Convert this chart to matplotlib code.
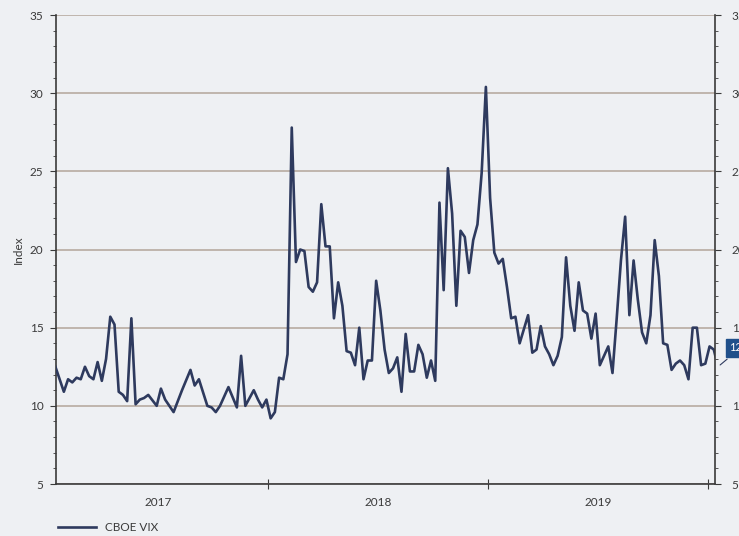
import numpy as np
import pandas as pd
import matplotlib
matplotlib.use('Agg')
import matplotlib.pyplot as plt
import matplotlib.dates as mdates
from matplotlib.ticker import MultipleLocator

# weekly CBOE VIX readings, week number counted from 13 Jan 2017
start = pd.Timestamp('2017-01-13')
weeks = [0, 2, 3, 4, 5, 6, 7, 8, 9, 10, 11, 12, 13, 14, 15, 16, 17, 18, 19, 20,
         21, 22, 24, 25, 26, 28, 30, 32, 33, 34, 36, 37, 38, 39, 41, 43, 44, 45, 47, 48,
         49, 50, 51, 52, 53, 54, 55, 56, 57, 58, 59, 60, 61, 62, 63, 64, 65, 66, 67, 68,
         69, 70, 71, 72, 73, 74, 75, 76, 77, 78, 79, 80, 81, 82, 83, 84, 85, 86, 87, 88,
         89, 90, 91, 92, 93, 94, 95, 96, 97, 98, 99, 100, 101, 102, 103, 104, 105, 106, 107, 108,
         109, 110, 112, 113, 114, 115, 116, 117, 118, 119, 120, 121, 122, 123, 124, 125, 126, 127, 128, 129,
         130, 131, 132, 133, 134, 135, 136, 137, 138, 139, 140, 141, 142, 143, 144, 145, 146, 147, 148, 149,
         150, 151, 152, 153, 154, 155, 156, 157]
vix = [12.5, 10.9, 11.7, 11.5, 11.8, 11.7, 12.5, 11.9, 11.7, 12.8, 11.6, 13.0, 15.7, 15.2, 10.9, 10.7, 10.3, 15.6, 10.1, 10.4,
       10.5, 10.7, 10.0, 11.1, 10.4, 9.6, 11.0, 12.3, 11.3, 11.7, 10.0, 9.9, 9.6, 10.0, 11.2, 9.9, 13.2, 10.0, 11.0, 10.4,
       9.9, 10.4, 9.2, 9.6, 11.8, 11.7, 13.3, 27.8, 19.2, 20.0, 19.9, 17.6, 17.3, 17.9, 22.9, 20.2, 20.2, 15.6, 17.9, 16.4,
       13.5, 13.4, 12.6, 15.0, 11.7, 12.9, 12.9, 18.0, 16.1, 13.6, 12.1, 12.4, 13.1, 10.9, 14.6, 12.2, 12.2, 13.9, 13.3, 11.8,
       12.9, 11.6, 23.0, 17.4, 25.2, 22.3, 16.4, 21.2, 20.8, 18.5, 20.6, 21.6, 24.9, 30.4, 23.3, 19.8, 19.1, 19.4, 17.6, 15.6,
       15.7, 14.0, 15.8, 13.4, 13.6, 15.1, 13.8, 13.3, 12.6, 13.2, 14.4, 19.5, 16.4, 14.8, 17.9, 16.1, 15.9, 14.3, 15.9, 12.6,
       13.2, 13.8, 12.1, 15.6, 19.3, 22.1, 15.8, 19.3, 16.8, 14.7, 14.0, 15.8, 20.6, 18.3, 14.0, 13.9, 12.3, 12.7, 12.9, 12.6,
       11.7, 15.0, 15.0, 12.6, 12.7, 13.8, 13.6, 12.5]

dates = start + pd.to_timedelta(np.array(weeks) * 7, unit='D')

bg = '#eef0f3'
ink = '#3a3a3a'
line_col = '#2e3a5e'

plt.rcParams['font.family'] = ['Lato', 'DejaVu Sans']

fig = plt.figure(figsize=(7.39, 5.36), dpi=100, facecolor=bg)
ax = fig.add_axes([0.0758, 0.097, 0.8917, 0.875])
ax.set_facecolor(bg)

ax.plot(dates, vix, color=line_col, lw=1.9, label='CBOE VIX', zorder=3)

ax.set_ylim(5, 35)
ax.set_xlim(pd.Timestamp('2017-01-14'), pd.Timestamp('2020-01-12'))

ax.yaxis.set_major_locator(MultipleLocator(5))
ax.yaxis.set_minor_locator(MultipleLocator(1))
ax.grid(axis='y', which='major', color='#b7aba1', lw=1.2)
ax.set_axisbelow(True)

# year boundaries as tick marks, year names centred in between
ax.xaxis.set_major_locator(mdates.YearLocator())
ax.xaxis.set_major_formatter(plt.NullFormatter())
ax.xaxis.set_minor_locator(mdates.MonthLocator(bymonth=7, bymonthday=2))
ax.xaxis.set_minor_formatter(mdates.DateFormatter('%Y'))
ax.tick_params(axis='x', which='major', direction='inout', length=7, color=ink)
ax.tick_params(axis='x', which='minor', length=0, pad=9, labelsize=8.5, labelcolor=ink)

ax.tick_params(axis='y', which='major', direction='out', length=4, color=ink, labelsize=8.5, labelcolor=ink, pad=5)
ax.tick_params(axis='y', which='minor', direction='out', length=2, color=ink)

for s in ['left', 'bottom']:
    ax.spines[s].set_color(ink)
    ax.spines[s].set_linewidth(1.2)
ax.spines['top'].set_visible(False)
ax.spines['right'].set_visible(False)

ax2 = ax.twinx()
ax2.set_ylim(5, 35)
ax2.yaxis.set_major_locator(MultipleLocator(5))
ax2.yaxis.set_minor_locator(MultipleLocator(1))
ax2.tick_params(axis='y', which='major', direction='out', length=4, color=ink, labelsize=8.5, labelcolor=ink, pad=8)
ax2.tick_params(axis='y', which='minor', direction='out', length=2, color=ink)
for s in ['left', 'top', 'bottom']:
    ax2.spines[s].set_visible(False)
ax2.spines['right'].set_color(ink)
ax2.spines['right'].set_linewidth(1.2)

ax.set_ylabel('Index', fontsize=8.5, color=ink, labelpad=4)

# last-value marker sitting past the right axis
ax.annotate(f'{vix[-1]:.1f}', xy=(dates[-1], vix[-1]), xycoords='data',
            xytext=(1.022, 0.29), textcoords='axes fraction',
            fontsize=8, color='white', va='center', ha='left',
            bbox=dict(boxstyle='square,pad=0.3', fc='#1f4f8a', ec='#1f4f8a'),
            arrowprops=dict(arrowstyle='-', color=line_col, lw=0.8),
            annotation_clip=False)

fig.legend(loc='lower left', bbox_to_anchor=(0.064, -0.015), frameon=False,
           fontsize=8.5, handlelength=3.2, labelcolor=ink)

fig.savefig('out.png', dpi=100, facecolor=bg)
